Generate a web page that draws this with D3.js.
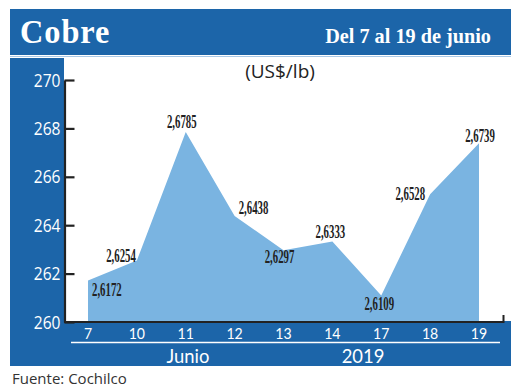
<!DOCTYPE html>
<html>
<head>
<meta charset="utf-8">
<script src="https://cdn.jsdelivr.net/npm/d3@7/dist/d3.min.js"></script>
<style>
  html, body { margin: 0; padding: 0; background: #ffffff; }
  svg { display: block; }
</style>
</head>
<body>
<svg id="chart" width="520" height="390"></svg>
<script>
// ---- data ----
const days = ["7", "10", "11", "12", "13", "14", "17", "18", "19"];
const prices = [261.72, 262.54, 267.85, 264.38, 262.97, 263.33, 261.09, 265.28, 267.39]; // US cents/lb
const yTicks = [260, 262, 264, 266, 268, 270];
const title = "Cobre";
const period = "Del 7 al 19 de junio";
const unit = "(US$/lb)";
const monthLabel = "Junio";
const yearLabel = "2019";
const source = "Fuente: Cochilco";

// ---- label placement (layout only) ----
const labelPlace = [
  { anchor: "start",  dx: 4,  dy: 16 },
  { anchor: "end",    dx: -1, dy: 1 },
  { anchor: "middle", dx: -4, dy: -4 },
  { anchor: "start",  dx: 4,  dy: -2 },
  { anchor: "middle", dx: -4, dy: 13 },
  { anchor: "middle", dx: -2, dy: -3 },
  { anchor: "middle", dx: -2, dy: 14 },
  { anchor: "end",    dx: -5, dy: 6 },
  { anchor: "middle", dx: 1,  dy: -1 }
];

const BLUE = "#1c65a9";
const FILL = "#7ab4e1";
const INK = "#222222";

const svg = d3.select("#chart");

function condense(sel, f) {
  sel.each(function () {
    const w = this.getComputedTextLength();
    d3.select(this).attr("textLength", w * f).attr("lengthAdjust", "spacingAndGlyphs");
  });
}

// ---- frame ----
svg.append("rect").attr("x", 10).attr("y", 9).attr("width", 501).attr("height", 46).attr("fill", BLUE);
svg.append("line").attr("x1", 10).attr("x2", 511).attr("y1", 56.5).attr("y2", 56.5)
  .attr("stroke", "#a9c8e6").attr("stroke-width", 1);
svg.append("rect").attr("x", 10).attr("y", 58).attr("width", 54).attr("height", 266).attr("fill", BLUE);
svg.append("rect").attr("x", 10).attr("y", 321).attr("width", 501).attr("height", 45).attr("fill", BLUE);

// header texts
svg.append("text").attr("x", 20).attr("y", 43)
  .attr("font-family", "Liberation Serif, serif").attr("font-weight", "bold")
  .attr("font-size", 34).attr("fill", "#ffffff").attr("letter-spacing", 1)
  .text(title)
  .call(condense, 0.95);
svg.append("text").attr("x", 491).attr("y", 43).attr("text-anchor", "end")
  .attr("font-family", "Liberation Serif, serif").attr("font-weight", "bold")
  .attr("font-size", 22).attr("fill", "#ffffff")
  .text(period)
  .call(condense, 0.92);

// unit
svg.append("text").attr("x", 280).attr("y", 78).attr("text-anchor", "middle")
  .attr("font-family", "Open Sans, sans-serif").attr("font-size", 19).attr("fill", INK)
  .text(unit);

// ---- scales ----
const x = d3.scalePoint().domain(days).range([88, 479]);
const y = d3.scaleLinear().domain([260, 270]).range([322, 80]);

// ---- area ----
const area = d3.area()
  .x((d, i) => x(days[i]))
  .y0(y(260))
  .y1(d => y(d));
svg.append("path").datum(prices).attr("d", area).attr("fill", FILL);

// ---- y axis ----
const yAxis = d3.axisLeft(y).tickValues(yTicks).tickFormat(d3.format("d"))
  .tickSizeInner(-10).tickSizeOuter(0).tickPadding(4);
const gy = svg.append("g").attr("transform", "translate(64.5,0)").call(yAxis);
gy.select(".domain").attr("stroke", INK).attr("stroke-width", 2.2);
gy.selectAll(".tick line").attr("stroke", INK).attr("stroke-width", 2.2);
gy.selectAll(".tick text").attr("fill", "#ffffff")
  .attr("font-family", "Open Sans, sans-serif").attr("font-size", 19)
  .call(condense, 0.82);

// ---- x axis baseline ----
svg.append("path")
  .attr("d", `M64,${y(260)}H503.5V${y(260) - 7}`)
  .attr("fill", "none").attr("stroke", INK).attr("stroke-width", 2);

// x tick labels
svg.append("g").selectAll("text").data(days).join("text")
  .attr("x", d => x(d)).attr("y", 338.5).attr("text-anchor", "middle")
  .attr("font-family", "Lato, sans-serif").attr("font-size", 16).attr("fill", "#ffffff")
  .text(d => d)
  .call(condense, 0.88);

svg.append("line").attr("x1", 71).attr("x2", 500).attr("y1", 342.5).attr("y2", 342.5)
  .attr("stroke", "#ffffff").attr("stroke-width", 1.5);

svg.append("text").attr("x", 188).attr("y", 362.5).attr("text-anchor", "middle")
  .attr("font-family", "Lato, sans-serif").attr("font-size", 20).attr("fill", "#ffffff")
  .text(monthLabel).call(condense, 0.92);
svg.append("text").attr("x", 363).attr("y", 362.5).attr("text-anchor", "middle")
  .attr("font-family", "Lato, sans-serif").attr("font-size", 20).attr("fill", "#ffffff")
  .text(yearLabel).call(condense, 0.92);

// ---- value labels ----
const fmt = v => (v / 100).toFixed(4).replace(".", ",");
svg.append("g").selectAll("text").data(prices).join("text")
  .attr("x", (d, i) => x(days[i]) + labelPlace[i].dx)
  .attr("y", (d, i) => y(d) + labelPlace[i].dy)
  .attr("text-anchor", (d, i) => labelPlace[i].anchor)
  .attr("font-family", "Liberation Serif, serif").attr("font-weight", "bold")
  .attr("font-size", 18).attr("fill", INK)
  .text(d => fmt(d))
  .call(condense, 0.6);

// ---- source ----
svg.append("text").attr("x", 12).attr("y", 384)
  .attr("font-family", "Open Sans, sans-serif").attr("font-size", 15).attr("fill", "#333333")
  .text(source);
</script>
</body>
</html>
